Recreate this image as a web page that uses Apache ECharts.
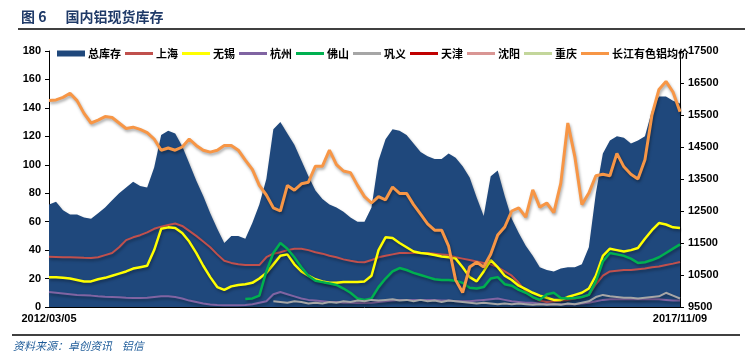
<!DOCTYPE html>
<html><head><meta charset="utf-8">
<script src="https://cdn.jsdelivr.net/npm/echarts@6/dist/echarts.min.js"></script>
<style>html,body{margin:0;padding:0;background:#fff}#c{width:754px;height:362px}</style>
</head><body><div id="c"></div>
<script>
var startLabel = '2012/03/05';
var endLabel = '2017/11/09';
var leftTicks = [0, 180, 20];
var rightTicks = [9500, 17500, 1000];

var total = [72,74,68,65,65,63,62,66,70,75,80,84,88,85,84,98,121,124,122,113,101,89,78,66,55,45,50,50,48,59,72,90,125,130,122,114,103,92,82,76,72,70,67,63,60,60,70,103,118,125,124,121,115,109,106,104,104,108,105,99,91,77,64,92,96,78,62,52,43,36,28,26,25,27,28,28,30,42,80,108,117,120,119,115,117,120,138,148,148,145,143];
var shanghai = [35.4,35.2,35,35,34.8,34.6,34.5,35,36.5,38,42,47,49,50.5,52.5,55,56.5,57.7,58.7,57,53.5,50,46,42,37,32.5,31,30,29.5,29.5,29.5,35,37.5,38.5,40,41,41,40,38.5,37.5,36,35,33.5,32.5,31.7,31.5,33,35,36,37,38,38,38,38,38,37.5,37,36.5,35,34,33,32,31,30,28,25,22,17,11,7,4.5,3.5,4,4.5,5,6,7,8.5,16,22,25,25.5,26,26,26.5,27,28,28.5,29.5,30.5,31.7];
var wuxi = [21,21,20.5,20,19,18,18,19.5,20.5,22,23.5,25,27,28,29,40,55,56,55.5,52,46,38,29,21,14,12,14.5,15.5,16,17,20,24,30,36,37,30,25,22,19.5,18,17,17,17.5,17.5,17.5,18,22,40,49,48.5,45,42,39,38,37.5,36.5,35.5,35,34,28,21,18,25,33,28,22,19,15,12.5,10,8,6.5,5,5,7,8.5,10,13,22,36,41,40,39,40,41.5,48,54,59,58,56,55.5];
var hangzhou = [10.5,10,9.5,9,8.5,8.3,8,7.5,7.2,7,6.8,6.5,6.3,6.3,6.5,7,7.5,7.5,7,6,4.5,3.5,2.5,1.8,1.4,1.3,1.3,1.3,1.4,2,3,4,9,10.5,9,7.5,6,5,4.5,4,3.5,3.5,3,3,2.8,2.8,3,3.5,4,4.5,5,5,5,5,5,5,4.5,4.5,4,4,4,4.5,5,5.5,6,5,4,3.5,3,3,2.5,2,2,2,2,2,2.5,3,4,5,5.5,5.5,5.5,5.5,5.5,5.5,5.5,5.5,5,4.5,4.5];
var foshan = [null,null,null,null,null,null,null,null,null,null,null,null,null,null,null,null,null,null,null,null,null,null,null,null,null,null,null,null,5.6,6,8,25,38,45,41,35,28,22,18.5,17.5,16.5,15.5,13,10,6,5,6,14,20,25,27.4,26,24,22.5,21,19.5,19,19,18.5,17,13.5,13,14,20,21,16,15,12,10,7,5,9,10,6.3,6,6.3,7,8.5,18,32,38,37,36,34,31,31.5,33,35,38,41,44];
var gongyi = [null,null,null,null,null,null,null,null,null,null,null,null,null,null,null,null,null,null,null,null,null,null,null,null,null,null,null,null,null,null,null,null,4,3.5,3,4,3.5,2.5,3,2.5,3.5,3,4,3.5,4.5,4,5,4.5,5,5.5,4.5,5,4,5,4,4.5,3.5,4.5,4,3.5,3,2.5,3,2.5,2,2.5,2,2.5,2,1.5,2,1.5,2,1.5,2.5,2,3,4,7,8.5,7.5,7,6.5,6.5,6,6.5,7,7.5,10,8,6];
var tianjin = [];
var shenyang = [];
var chongqing = [];
var price = [15950,15970,16050,16180,15950,15550,15250,15340,15450,15420,15250,15080,15120,15050,14950,14750,14400,14470,14400,14500,14750,14550,14400,14340,14400,14550,14550,14400,14090,13800,13300,13000,12600,12500,13300,13150,13350,13400,13900,13900,14400,13950,13750,13700,13300,12950,12750,12950,12850,13250,13050,13050,12700,12400,12100,11900,11900,11400,10340,9950,10750,10900,10750,11150,11750,12000,12500,12600,12310,13160,12620,12750,12450,13370,15250,14200,12700,13060,13600,13650,13600,14300,13880,13650,13500,14100,15500,16300,16550,16220,15600];
var names = ['总库存','上海','无锡','杭州','佛山','巩义','天津','沈阳','重庆','长江有色铝均价'];

var N = total.length;
var d0 = new Date(2012, 2, 5), d1 = new Date(2017, 10, 9);
var categories = [];
for (var i = 0; i < N; i++) {
  if (i === 0) { categories.push(startLabel); continue; }
  if (i === N - 1) { categories.push(endLabel); continue; }
  var t = new Date(d0.getTime() + (d1 - d0) * i / (N - 1));
  categories.push(t.getFullYear() + '/' + ('0' + (t.getMonth() + 1)).slice(-2) + '/' + ('0' + t.getDate()).slice(-2));
}

var numFont = '"Liberation Sans", Arial, sans-serif';
var cjk = '"Noto Sans CJK SC", "Liberation Sans", sans-serif';
var shadow = {shadowColor: 'rgba(0,0,0,0.35)', shadowBlur: 3, shadowOffsetX: 1, shadowOffsetY: 2};
var lineIcon = 'path://M0,0L28,0L28,3L0,3Z';

function lineSeries(name, data, color, width, axis) {
  return {name: name, type: 'line', data: data, yAxisIndex: axis || 0, symbol: 'none',
    connectNulls: false, animation: false,
    lineStyle: Object.assign({color: color, width: width}, shadow),
    itemStyle: {color: color}};
}

var chart = echarts.init(document.getElementById('c'), null, {renderer: 'canvas'});
chart.setOption({
  animation: false,
  title: {text: '图 6      国内铝现货库存', left: 16, top: 5,
    textStyle: {fontFamily: cjk, fontSize: 14, fontWeight: 'bold', color: '#1F3A68'}},
  legend: {left: 52, top: 43, itemWidth: 28, itemHeight: 6, itemGap: 4, symbolKeepAspect: true,
    textStyle: {fontFamily: cjk, fontSize: 11, fontWeight: 'bold', color: '#000', padding: [0, 0, 0, -2]},
    data: [
      {name: names[0], icon: 'rect'},
      {name: names[1], icon: lineIcon}, {name: names[2], icon: lineIcon}, {name: names[3], icon: lineIcon},
      {name: names[4], icon: lineIcon}, {name: names[5], icon: lineIcon}, {name: names[6], icon: lineIcon},
      {name: names[7], icon: lineIcon}, {name: names[8], icon: lineIcon}, {name: names[9], icon: lineIcon}
    ]},
  grid: {left: 49, right: 74, top: 51, bottom: 55, containLabel: false},
  xAxis: {type: 'category', data: categories, boundaryGap: false,
    axisLine: {lineStyle: {color: '#000', width: 1}}, axisTick: {show: false},
    axisLabel: {interval: function (i) { return i === 0 || i === N - 1; }, showMinLabel: true, showMaxLabel: true,
      fontFamily: numFont, fontSize: 11, fontWeight: 'bold', color: '#000', margin: 6}},
  yAxis: [
    {type: 'value', min: leftTicks[0], max: leftTicks[1], interval: leftTicks[2], splitLine: {show: false},
      axisLine: {show: true, lineStyle: {color: '#000'}}, axisTick: {show: true, length: 4, lineStyle: {color: '#000'}},
      axisLabel: {fontFamily: numFont, fontSize: 11, fontWeight: 'bold', color: '#000', margin: 8,
        formatter: function (v) { return String(v); }}},
    {type: 'value', min: rightTicks[0], max: rightTicks[1], interval: rightTicks[2], splitLine: {show: false},
      axisLine: {show: true, lineStyle: {color: '#000'}}, axisTick: {show: true, length: 4, lineStyle: {color: '#000'}},
      axisLabel: {fontFamily: numFont, fontSize: 11, fontWeight: 'bold', color: '#000', margin: 8,
        formatter: function (v) { return String(v); }}}
  ],
  series: [
    {name: names[0], type: 'line', data: total, symbol: 'none', animation: false,
      lineStyle: {width: 0, color: '#1F487C'}, itemStyle: {color: '#1F487C'},
      areaStyle: Object.assign({color: '#1F487C', opacity: 1}, shadow)},
    lineSeries(names[1], shanghai, '#C0504D', 2),
    lineSeries(names[2], wuxi, '#FFFF00', 2.5),
    lineSeries(names[3], hangzhou, '#8064A2', 2),
    lineSeries(names[4], foshan, '#00B050', 2.5),
    lineSeries(names[5], gongyi, '#A6A6A6', 2),
    lineSeries(names[6], tianjin, '#C00000', 2),
    lineSeries(names[7], shenyang, '#D99694', 2),
    lineSeries(names[8], chongqing, '#C3D69B', 2),
    lineSeries(names[9], price, '#F79646', 3, 1)
  ],
  graphic: [
    {type: 'line', shape: {x1: 18, y1: 29, x2: 745, y2: 29}, style: {stroke: '#000', lineWidth: 1.5}},
    {type: 'line', shape: {x1: 12, y1: 335, x2: 740, y2: 335}, style: {stroke: '#000', lineWidth: 1.5}},
    {type: 'text', left: 13, top: 340, style: {text: '资料来源：卓创资讯    铝信', fill: '#1F5C99',
      font: 'italic 11px "Noto Sans CJK SC", sans-serif'}}
  ]
});
</script></body></html>
